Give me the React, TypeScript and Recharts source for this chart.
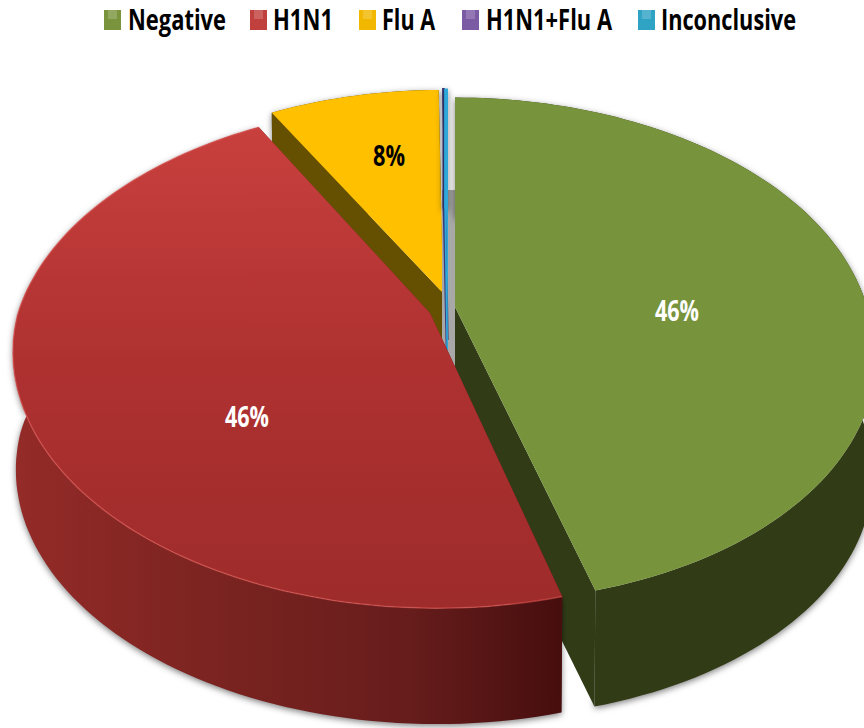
import React from 'react';
import { PieChart, Pie, Legend } from 'recharts';

const categories = ['Negative', 'H1N1', 'Flu A', 'H1N1+Flu A', 'Inconclusive'];
const shares = [46, 46, 8, 0.06, 0.14];
const legendColors = ['#7A943D', '#C0403D', '#F2B800', '#7C5BA5', '#2FA3C4'];

// Legend layout: swatch left edge, text left edge and squeezed text width per entry
const legendLeft = [104, 250, 359, 462, 638];
const legendTextLeft = [128, 273, 382, 486, 661];
const legendTextWidth = [98, 60, 53, 126, 135];

// Slices are painted back to front so the near walls overlap the far ones
const paintOrder = [2, 3, 4, 0, 1];

const WIDTH = 864;
const HEIGHT = 728;
const FONT = '"Open Sans", "Liberation Sans", sans-serif';

// Projection of the disc: half width, half height, perspective strength, wall depth
const RX = 412;
const RY = 245;
const PERSPECTIVE = 0.17;
const DEPTH = 118;
const WALL_SHRINK = 0.993;

type SliceLook = {
  apex: [number, number];
  scale: number;
  top: string;
  wall: string;
  leanNear?: number;
  leanFar?: number;
  edge?: string;
  rimGlow?: string;
  label?: [number, number];
  labelWidth?: number;
  labelColor?: string;
  backPanel?: boolean;
};

const looks: Record<string, SliceLook> = {
  Negative: { apex: [455, 307], scale: 1, leanNear: 13, top: '#77933C', wall: '#313C17', label: [222, 2], labelWidth: 44, labelColor: '#fff' },
  H1N1: { apex: [430, 313], scale: 1, leanNear: 6, leanFar: 7, top: 'url(#redTop)', wall: 'url(#redWall)', rimGlow: 'rgba(225,90,85,0.55)', label: [-183, 102], labelWidth: 44, labelColor: '#fff' },
  'Flu A': { apex: [443, 293], scale: 0.97, top: '#FFC000', wall: '#645000', label: [-54, -139], labelWidth: 32, labelColor: '#000' },
  'H1N1+Flu A': { apex: [448, 340], scale: 1.2, top: '#3B3A78', wall: '#3B3A78', edge: '#3B3A78', backPanel: true },
  Inconclusive: { apex: [448, 340], scale: 1.2, top: '#2EA8D8', wall: '#2EA8D8' },
};

const slices = paintOrder.map((i) => ({ name: categories[i], value: shares[i] }));
const total = shares.reduce((a, b) => a + b, 0);
// The first painted slice begins ahead of 12 o'clock, Negative starts right on it
const frontSpan = paintOrder.slice(0, 3).reduce((a, i) => a + shares[i], 0);
const startAngle = 90 + (frontSpan / total) * 360;

const rimPoint = (look: SliceLook, deg: number): [number, number] => {
  const t = (deg * Math.PI) / 180;
  const sin = Math.sin(t);
  const s = look.scale / (1 + PERSPECTIVE * sin);
  // near half of the disc leans right a little, the far half can lean too
  const lean = sin < 0 ? -sin * (look.leanNear ?? 0) : sin * (look.leanFar ?? 0);
  return [look.apex[0] + (RX * Math.cos(t) + lean) * s, look.apex[1] - RY * sin * s];
};

const dropped = (look: SliceLook, p: [number, number]): [number, number] => [
  look.apex[0] + (p[0] - look.apex[0]) * WALL_SHRINK,
  look.apex[1] + (p[1] - look.apex[1]) * WALL_SHRINK + DEPTH,
];

const toPoints = (pts: [number, number][]) =>
  'M' + pts.map((p) => `${p[0].toFixed(1)},${p[1].toFixed(1)}`).join('L');
const toPath = (pts: [number, number][]) => toPoints(pts) + 'Z';

const SliceShape = (props: any) => {
  const look = looks[props.name ?? props.payload?.name];
  if (!look) return null;
  const { startAngle: a0, endAngle: a1 } = props;
  const steps = Math.max(2, Math.ceil(Math.abs(a1 - a0) / 1.5));
  const rim: [number, number][] = [];
  for (let i = 0; i <= steps; i++) rim.push(rimPoint(look, a0 + ((a1 - a0) * i) / steps));
  const first = rim[0];
  const last = rim[rim.length - 1];
  const lowApex = dropped(look, look.apex);
  return (
    <g>
      {look.backPanel && (
        <path
          d={toPath([
            [look.apex[0] - 6, look.apex[1] - 150],
            [look.apex[0] + 7, look.apex[1] - 150],
            [look.apex[0] + 7, look.apex[1] + 27],
            [look.apex[0] - 6, look.apex[1] + 5],
          ])}
          fill="#A8A8A8"
        />
      )}
      <path
        d={toPath([...rim, ...rim.map((p) => dropped(look, p)).reverse()])}
        fill={look.wall}
        style={{ filter: 'drop-shadow(0px 2px 3px rgba(0,0,0,0.5))' }}
      />
      <path d={toPath([look.apex, first, dropped(look, first), lowApex])} fill={look.wall} />
      <path d={toPath([look.apex, last, dropped(look, last), lowApex])} fill={look.wall} />
      <path
        d={toPath([look.apex, ...rim])}
        fill={look.top}
        stroke={look.edge ?? 'none'}
        strokeWidth={look.edge ? 1.2 : 0}
      />
      {look.rimGlow && <path d={toPoints(rim)} fill="none" stroke={look.rimGlow} strokeWidth={1.5} />}
    </g>
  );
};

const renderLabel = (props: any) => {
  const look = looks[props.name];
  if (!look?.label) return null;
  return (
    <text
      x={look.apex[0] + look.label[0]}
      y={look.apex[1] + look.label[1]}
      fill={look.labelColor}
      textAnchor="middle"
      dominantBaseline="central"
      fontFamily={FONT}
      fontWeight="bold"
      fontSize={29}
      textLength={look.labelWidth}
      lengthAdjust="spacingAndGlyphs"
    >
      {`${Math.round(props.percent * 100)}%`}
    </text>
  );
};

const LegendRow = () => (
  <svg width={WIDTH} height={44} style={{ display: 'block' }}>
    {categories.map((name, i) => (
      <g key={name}>
        <rect x={legendLeft[i]} y={10} width={17} height={20} fill={legendColors[i]} />
        <rect x={legendLeft[i] + 4} y={10} width={9} height={9} fill="#fff" opacity={0.18} />
        <text
          x={legendTextLeft[i]}
          y={29.5}
          fontFamily={FONT}
          fontWeight="bold"
          fontSize={29}
          fill="#000"
          textLength={legendTextWidth[i]}
          lengthAdjust="spacingAndGlyphs"
        >
          {name}
        </text>
      </g>
    ))}
  </svg>
);

export default function App() {
  return (
    <div style={{ position: 'absolute', left: 0, top: 0, width: WIDTH, height: HEIGHT, overflow: 'hidden', background: '#fff' }}>
      <PieChart width={WIDTH} height={HEIGHT} margin={{ top: 0, right: 0, bottom: 0, left: 0 }}>
        <defs>
          <linearGradient id="redTop" gradientUnits="userSpaceOnUse" x1="0" y1="127" x2="0" y2="600">
            <stop offset="0" stopColor="#C8403E" />
            <stop offset="0.5" stopColor="#AE3130" />
            <stop offset="1" stopColor="#9E2C2B" />
          </linearGradient>
          <linearGradient id="redWall" gradientUnits="userSpaceOnUse" x1="12" y1="0" x2="560" y2="0">
            <stop offset="0" stopColor="#942B28" />
            <stop offset="0.35" stopColor="#7C2421" />
            <stop offset="0.72" stopColor="#671D1C" />
            <stop offset="1" stopColor="#470E0E" />
          </linearGradient>
        </defs>
        <Legend verticalAlign="top" content={() => <LegendRow />} wrapperStyle={{ top: 0, left: 0, width: WIDTH, height: 44 }} />
        <Pie
          data={slices}
          dataKey="value"
          nameKey="name"
          cx={430}
          cy={313}
          outerRadius={RX}
          startAngle={startAngle}
          endAngle={startAngle - 360}
          shape={SliceShape}
          label={renderLabel}
          labelLine={false}
          stroke="none"
          isAnimationActive={false}
        />
      </PieChart>
    </div>
  );
}
